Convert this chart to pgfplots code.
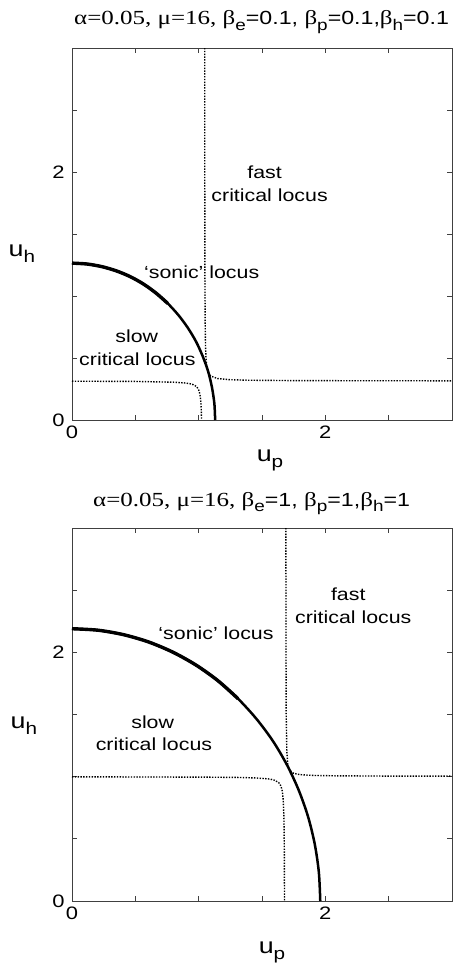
\documentclass[border=0pt]{standalone}
\usepackage{fontspec}
\setmainfont{Liberation Sans}[FakeStretch=1.22]
\newfontfamily\titleserif{Liberation Serif}[FakeStretch=1.25]
\usepackage{pgfplots}
\pgfplotsset{compat=1.18}

\newcommand\lbl{\fontsize{17.5}{21}\selectfont}
\newcommand\tserif{\titleserif\fontsize{20}{22}\selectfont}
\newcommand\tsub[1]{\raisebox{-0.3em}{\fontsize{15.5}{16}\selectfont #1}}
\newcommand\axsub[1]{\raisebox{-6pt}{\fontsize{17}{17}\selectfont #1}}

\pgfplotsset{
  locuspanel/.style={
    scale only axis, width=380pt,
    xmin=0, xmax=3, ymin=0, ymax=3,
    xtick={0,2}, ytick={0,2},
    minor xtick={0.5,1,1.5,2.5}, minor ytick={0.5,1,1.5,2.5},
    major tick length=5pt, minor tick length=5pt,
    tick style={black!75, line width=0.8pt},
    axis line style={black!75, line width=0.8pt},
    tick label style={font=\fontsize{18}{18}\selectfont},
    xticklabel style={yshift=-2pt},
    yticklabel style={xshift=-4pt},
    /pgf/number format/assume math mode=true,
    clip=false,
  },
  sonic/.style={black, line width=2.5pt, smooth},
  sonictop/.style={black, line width=3.4pt, smooth},
  critical/.style={black, line width=1.4pt, dash pattern=on 1.4pt off 1.4pt},
}

\begin{document}
\begin{tikzpicture}
\useasboundingbox (0,0) rectangle (454pt,-966pt);

% ---------- upper panel: beta = 0.1 ----------
\node[anchor=base west, inner sep=0pt, font=\fontsize{19}{22}\selectfont] at (74pt,-25pt)
  {{\tserif α=0.05, μ=16, β}\tsub{e}=0.1, {\tserif β}\tsub{p}=0.1,{\tserif β}\tsub{h}=0.1};

\begin{axis}[locuspanel, height=372pt, at={(72pt,-420pt)}, anchor=south west]
  % slow critical locus
  \addplot[critical] coordinates {
    (0,0.313) (0.5,0.311) (0.8,0.305) (0.9,0.298) (0.93,0.293) (0.95,0.288)
    (0.97,0.278) (0.98,0.271) (0.99,0.260) (1.0,0.242) (1.005,0.227) (1.01,0.205)
    (1.015,0.168) (1.0174,0.14) (1.0198,0.1) (1.023,0)};
  % fast critical locus
  \addplot[critical] coordinates {
    (1.0477,3.0) (1.0482,2.0) (1.0493,1.2) (1.0511,0.8) (1.054,0.6) (1.0578,0.5)
    (1.0618,0.45) (1.066,0.42) (1.0778,0.38) (1.09,0.3615) (1.1,0.3527) (1.15,0.3344)
    (1.25,0.3249) (1.4,0.3207) (1.7,0.3181) (2.2,0.3167) (3.0,0.316)};
  % sonic locus
  \addplot[sonic] coordinates {
    (1.130,0.000) (1.124,0.132) (1.105,0.263) (1.075,0.391) (1.032,0.514)
    (0.979,0.633) (0.914,0.744) (0.840,0.846) (0.756,0.940) (0.664,1.023)
    (0.565,1.096) (0.460,1.156) (0.349,1.203) (0.235,1.237) (0.118,1.258) (0.000,1.265)};
  \addplot[sonictop] coordinates {
    (0.756,0.940) (0.664,1.023) (0.565,1.096) (0.460,1.156) (0.349,1.203)
    (0.235,1.237) (0.118,1.258) (0.000,1.265)};

  \node[font=\lbl] at (1.52,2.00) {fast};
  \node[font=\lbl] at (1.56,1.815) {critical locus};
  \node[font=\lbl] at (1.024,1.188) {‘sonic’ locus};
  \node[font=\lbl] at (0.511,0.677) {slow};
  \node[font=\lbl] at (0.516,0.489) {critical locus};

  \node[font=\fontsize{22}{22}\selectfont] at (1.563,-0.323) {u\axsub{p}};
  \node[font=\fontsize{22}{22}\selectfont] at (-0.395,1.34) {u\axsub{h}};
\end{axis}

% ---------- lower panel: beta = 1 ----------
\node[anchor=base west, inner sep=0pt, font=\fontsize{19}{22}\selectfont] at (93pt,-506pt)
  {{\tserif α=0.05, μ=16, β}\tsub{e}=1, {\tserif β}\tsub{p}=1,{\tserif β}\tsub{h}=1};

\begin{axis}[locuspanel, height=373pt, at={(72pt,-901pt)}, anchor=south west]
  % slow critical locus
  \addplot[critical] coordinates {
    (0,0.9986) (1.0,0.9966) (1.3,0.994) (1.45,0.990) (1.55,0.982) (1.575,0.978)
    (1.6,0.971) (1.63,0.954) (1.64,0.9425) (1.65,0.923) (1.66,0.885) (1.667,0.823)
    (1.6723,0.7) (1.6743,0.6) (1.6762,0.4) (1.6777,0)};
  % fast critical locus
  \addplot[critical] coordinates {
    (1.6888,3.0) (1.6895,2.0) (1.691,1.5) (1.696,1.2) (1.7035,1.1) (1.7104,1.07)
    (1.720,1.05) (1.75,1.027) (1.8,1.0164) (1.9,1.0101) (2.1,1.0066) (2.5,1.0048) (3.0,1.0041)};
  % sonic locus
  \addplot[sonic] coordinates {
    (1.960,0.000) (1.949,0.229) (1.917,0.455) (1.864,0.677) (1.790,0.891)
    (1.697,1.095) (1.586,1.287) (1.456,1.465) (1.311,1.627) (1.152,1.772)
    (0.980,1.897) (0.797,2.001) (0.606,2.083) (0.407,2.142) (0.205,2.178) (0.000,2.190)};
  \addplot[sonictop] coordinates {
    (1.311,1.627) (1.152,1.772) (0.980,1.897) (0.797,2.001) (0.606,2.083)
    (0.407,2.142) (0.205,2.178) (0.000,2.190)};

  \node[font=\lbl] at (2.181,2.466) {fast};
  \node[font=\lbl] at (2.221,2.283) {critical locus};
  \node[font=\lbl] at (1.137,2.155) {‘sonic’ locus};
  \node[font=\lbl] at (0.637,1.440) {slow};
  \node[font=\lbl] at (0.647,1.257) {critical locus};

  \node[font=\fontsize{22}{22}\selectfont] at (1.579,-0.41) {u\axsub{p}};
  \node[font=\fontsize{22}{22}\selectfont] at (-0.38,1.41) {u\axsub{h}};
\end{axis}
\end{tikzpicture}
\end{document}
